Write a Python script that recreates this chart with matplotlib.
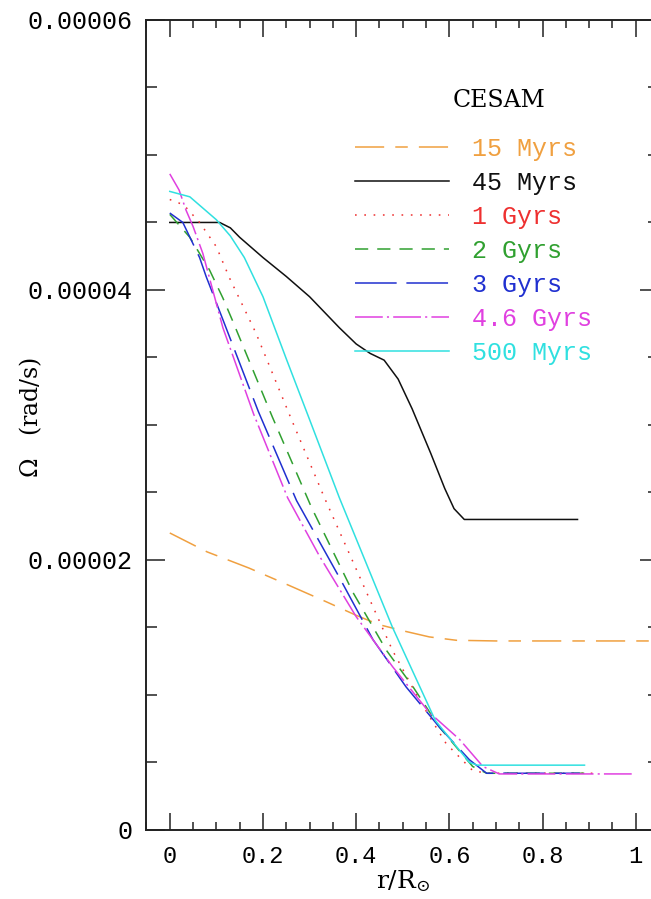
import numpy as np
import matplotlib
matplotlib.use("Agg")
import matplotlib.pyplot as plt
from matplotlib.ticker import MultipleLocator, FixedLocator

plt.rcParams['lines.scale_dashes'] = False
plt.rcParams['mathtext.fontset'] = 'dejavuserif'

# Omega(r) profiles, x in r/Rsun, y in rad/s
r_15myr = [0.0, 0.08, 0.17, 0.257, 0.336, 0.40, 0.45, 0.507, 0.557, 0.615, 0.70, 1.05]
w_15myr = [22.0e-6, 20.6e-6, 19.4e-6, 18.1e-6, 16.9e-6, 15.9e-6, 15.2e-6, 14.7e-6, 14.3e-6, 14.05e-6, 14.0e-6, 14.0e-6]

r_45myr = [0.0, 0.107, 0.13, 0.15, 0.2, 0.25, 0.3, 0.364, 0.40, 0.43, 0.46, 0.49, 0.52, 0.56, 0.59, 0.61, 0.632, 0.875]
w_45myr = [45.0e-6, 45.0e-6, 44.6e-6, 43.9e-6, 42.4e-6, 41.0e-6, 39.5e-6, 37.2e-6, 36.0e-6, 35.3e-6, 34.8e-6, 33.4e-6, 31.2e-6, 27.9e-6, 25.3e-6, 23.8e-6, 23.0e-6, 23.0e-6]

r_1gyr = [0.0, 0.03, 0.064, 0.1, 0.128, 0.185, 0.26, 0.332, 0.43, 0.478, 0.536, 0.593, 0.65, 0.68, 0.92]
w_1gyr = [46.7e-6, 46.3e-6, 45.0e-6, 43.2e-6, 40.9e-6, 36.8e-6, 30.5e-6, 24.6e-6, 17.0e-6, 13.3e-6, 9.6e-6, 6.4e-6, 4.4e-6, 4.2e-6, 4.2e-6]

r_2gyr = [0.0, 0.043, 0.085, 0.114, 0.135, 0.22, 0.304, 0.393, 0.465, 0.522, 0.579, 0.65, 0.68, 0.90]
w_2gyr = [45.6e-6, 43.9e-6, 41.5e-6, 39.4e-6, 37.7e-6, 30.6e-6, 23.9e-6, 17.6e-6, 13.3e-6, 10.6e-6, 7.6e-6, 4.7e-6, 4.2e-6, 4.2e-6]

r_3gyr = [0.0, 0.028, 0.064, 0.078, 0.114, 0.19, 0.272, 0.364, 0.436, 0.507, 0.579, 0.643, 0.68, 0.88]
w_3gyr = [45.7e-6, 45.0e-6, 42.4e-6, 41.0e-6, 37.8e-6, 31.0e-6, 24.4e-6, 18.7e-6, 14.1e-6, 10.6e-6, 7.6e-6, 5.2e-6, 4.2e-6, 4.2e-6]

r_46gyr = [0.0, 0.02, 0.035, 0.05, 0.071, 0.114, 0.18, 0.253, 0.321, 0.40, 0.478, 0.557, 0.622, 0.672, 0.707, 0.995]
w_46gyr = [48.6e-6, 47.4e-6, 45.9e-6, 44.7e-6, 42.7e-6, 37.2e-6, 30.8e-6, 24.6e-6, 20.3e-6, 15.8e-6, 12.1e-6, 8.7e-6, 6.7e-6, 4.7e-6, 4.15e-6, 4.15e-6]

r_500myr = [0.0, 0.043, 0.1, 0.13, 0.16, 0.2, 0.25, 0.30, 0.364, 0.478, 0.57, 0.643, 0.66, 0.89]
w_500myr = [47.3e-6, 46.9e-6, 45.2e-6, 44.0e-6, 42.4e-6, 39.5e-6, 34.9e-6, 30.4e-6, 24.6e-6, 15.0e-6, 8.1e-6, 5.0e-6, 4.8e-6, 4.8e-6]

labels = ['15 Myrs', '45 Myrs', '1 Gyrs', '2 Gyrs', '3 Gyrs', '4.6 Gyrs', '500 Myrs']
colors = ['#f0a040', '#101010', '#ee3030', '#30a030', '#2030d0', '#e040e0', '#30e0e0']
dashes = [(21, 8, 9, 8), (), (1.2, 5.5), (9.5, 6.5), (30, 7), (20, 3, 1.5, 3), ()]
curves = [(r_15myr, w_15myr), (r_45myr, w_45myr), (r_1gyr, w_1gyr), (r_2gyr, w_2gyr),
          (r_3gyr, w_3gyr), (r_46gyr, w_46gyr), (r_500myr, w_500myr)]

fig = plt.figure(figsize=(6.51, 8.99), dpi=100)
ax = fig.add_axes([0.225, 0.0768, 0.7874, 0.901])

for (r, w), lab, c, d in zip(curves, labels, colors, dashes):
    ln, = ax.plot(r, w, color=c, lw=1.1, label=lab)
    if d:
        ln.set_dashes(d)

ax.set_xlim(-0.05, 1.05)
ax.set_ylim(0, 0.00006)

ax.xaxis.set_minor_locator(MultipleLocator(0.05))
ax.yaxis.set_major_locator(FixedLocator([0, 0.00002, 0.00004, 0.00006]))
ax.yaxis.set_minor_locator(MultipleLocator(0.000005))
ax.set_xticks([0, 0.2, 0.4, 0.6, 0.8, 1])
ax.set_xticklabels(['0', '0.2', '0.4', '0.6', '0.8', '1'])
ax.set_yticklabels(['0', '0.00002', '0.00004', '0.00006'])

ax.tick_params(which='both', direction='in', top=True, right=True, width=1.1, color='#222222')
ax.tick_params(axis='x', which='major', length=12, pad=11)
ax.tick_params(axis='x', which='minor', length=6)
ax.tick_params(axis='y', which='major', length=14, pad=10)
ax.tick_params(axis='y', which='minor', length=8)
for lab in ax.get_xticklabels():
    lab.set_family('Liberation Mono')
    lab.set_fontsize(17)
for lab in ax.get_yticklabels():
    lab.set_family('Liberation Mono')
    lab.set_fontsize(18)
for s in ax.spines.values():
    s.set_linewidth(1.4)
    s.set_color('#222222')

ax.set_xlabel(r'r/R$_{\odot}$', family='DejaVu Serif', fontsize=18, labelpad=0)
ax.set_ylabel(r'$\Omega$   (rad/s)', family='DejaVu Serif', fontsize=17)
ax.yaxis.set_label_coords(-0.200, 0.509)

ax.text(0.707, 0.0000540, 'CESAM', family='DejaVu Serif', fontsize=17,
        ha='center', va='center')

leg = ax.legend(loc='upper left', bbox_to_anchor=(0.4068, 0.856), frameon=False,
                prop={'family': 'Liberation Mono', 'size': 18}, handlelength=3.78,
                handletextpad=0.9, labelspacing=0.4, borderpad=0, borderaxespad=0)
for txt, c in zip(leg.get_texts(), colors):
    txt.set_color(c)

plt.savefig('out.png', dpi=100)
